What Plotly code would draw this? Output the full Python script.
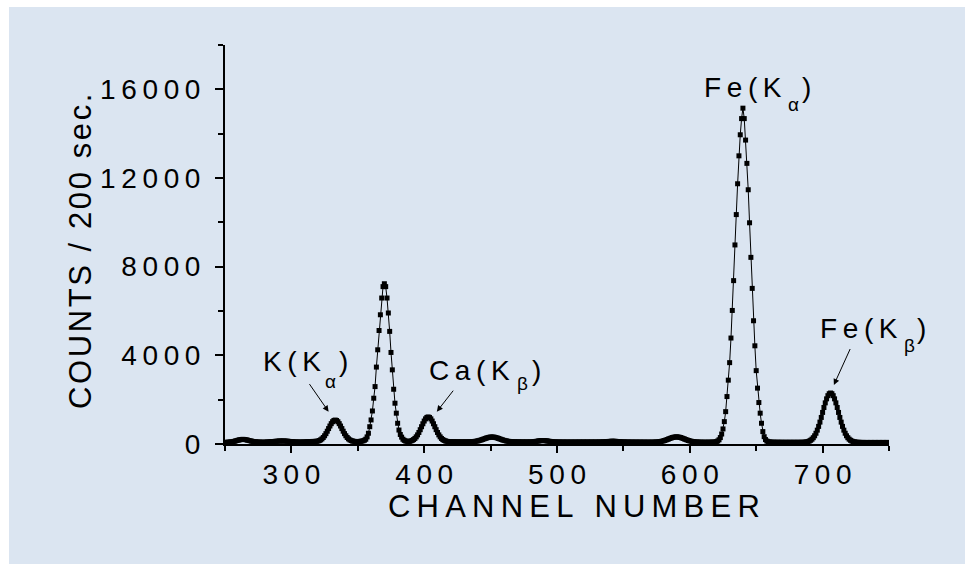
import plotly.graph_objects as go

# ---------------- data ----------------
channel_start = 250
counts = [
    70, 75, 80, 85, 90, 95, 105, 120, 140, 158,            # 250
    174, 189, 200, 208, 207, 200, 189, 174, 159, 143,      # 260
    129, 116, 106, 98, 92, 88, 85, 82, 80, 80,             # 270
    82, 85, 90, 95, 100, 105, 110, 115, 120, 125,          # 280
    130, 133, 135, 136, 135, 133, 130, 126, 120, 114,      # 290
    108, 102, 97, 93, 90, 88, 87, 87, 88, 90,              # 300
    93, 97, 100, 104, 108, 112, 115, 117, 118, 122,        # 310
    133, 155, 187, 232, 294, 372, 468, 577, 695, 811,      # 320
    918, 1005, 1060, 1080, 1060, 1005, 918, 811, 695, 577, # 330
    468, 372, 294, 232, 187, 155, 133, 122, 115, 111,      # 340
    112, 115, 120, 130, 145, 170, 215, 320, 485, 780,      # 350
    1085, 1490, 2065, 2590, 3470, 4250, 5120, 5830, 6585, 7100,  # 360
    7230, 7100, 6585, 5910, 5080, 4130, 3345, 2470, 1840, 1390,  # 370
    935, 630, 430, 310, 215, 165, 135, 120, 115, 122,      # 380
    138, 163, 200, 251, 322, 411, 520, 645, 780, 913,      # 390
    1035, 1134, 1198, 1220, 1198, 1134, 1035, 913, 780, 645,  # 400
    520, 411, 322, 251, 200, 163, 138, 122, 112, 107,      # 410
    104, 102, 100, 99, 98, 97, 96, 95, 95, 95,             # 420
    95, 96, 96, 97, 98, 101, 105, 110, 116, 125,           # 430
    136, 150, 167, 185, 206, 229, 251, 271, 289, 303,      # 440
    312, 315, 312, 303, 289, 271, 251, 229, 206, 185,      # 450
    167, 150, 136, 125, 116, 110, 105, 101, 98, 96,        # 460
    95, 94, 93, 92, 92, 91, 91, 91, 91, 91,                # 470
    92, 95, 100, 107, 116, 126, 136, 145, 152, 155,        # 480
    154, 150, 143, 134, 124, 115, 107, 101, 96, 93,        # 490
    91, 90, 89, 88, 88, 87, 87, 87, 86, 86,                # 500
    86, 86, 86, 86, 86, 87, 87, 87, 88, 88,                # 510
    88, 88, 88, 88, 88, 88, 88, 88, 88, 88,                # 520
    88, 89, 90, 92, 94, 96, 100, 105, 110, 115,            # 530
    120, 123, 125, 123, 120, 115, 110, 104, 99, 96,        # 540
    93, 91, 90, 88, 87, 86, 86, 85, 85, 85,                # 550
    85, 84, 84, 84, 83, 83, 83, 82, 82, 82,                # 560
    82, 82, 83, 84, 87, 91, 96, 103, 112, 125,             # 570
    140, 158, 179, 201, 226, 250, 272, 292, 307, 317,      # 580
    320, 317, 307, 292, 272, 250, 226, 201, 179, 158,      # 590
    140, 125, 112, 103, 96, 91, 87, 84, 82, 81,            # 600
    80, 80, 80, 80, 80, 81, 82, 84, 87, 90,                # 610
    105, 135, 190, 290, 450, 680, 1010, 1460, 2140, 2880,  # 620
    3670, 4780, 6025, 7370, 8980, 10350, 11740, 13000, 13950, 14680,  # 630
    15150, 14680, 13710, 12660, 11470, 9980, 8420, 7020, 5560, 4430,  # 640
    3310, 2520, 1870, 1390, 935, 560, 330, 200, 135, 105,  # 650
    90, 85, 82, 80, 79, 78, 78, 77, 77, 77,                # 660
    76, 76, 76, 76, 76, 76, 76, 76, 76, 76,                # 670
    76, 76, 76, 76, 77, 78, 79, 85, 95, 110,               # 680
    135, 168, 217, 284, 371, 485, 625, 795, 987, 1198,     # 690
    1424, 1647, 1856, 2037, 2180, 2269, 2300, 2269, 2180, 2037,  # 700
    1856, 1647, 1424, 1198, 987, 795, 625, 485, 371, 284,  # 710
    217, 168, 135, 110, 95, 85, 79, 75, 73, 72,            # 720
    71, 70, 70, 70, 70, 70, 70, 70, 70, 70,                # 730
    70, 70, 70, 70, 70, 70, 70, 70, 70, 70,                # 740
    70,                                                    # 750
]
channels = list(range(channel_start, channel_start + len(counts)))

x_range = [250, 750]
y_range = [0, 18000]
x_major = [300, 400, 500, 600, 700]
x_minor = [250, 350, 450, 550, 650, 750]
y_major = [0, 4000, 8000, 12000, 16000]
y_minor = [2000, 6000, 10000, 14000, 18000]

x_title = "CHANNEL NUMBER"
y_title = "COUNTS / 200 sec."

# peak labels, drawn as "X(K" + small subscript letter + ")"
# (main text, subscript, main-right x, main y, sub x, sub y, paren x) in data units
peak_labels = [
    ("K(K", "α", 324.1, 3700, 329.3, 2842, 339.1),
    ("Ca(K", "β", 466.4, 3338, 474.1, 2729, 484.2),
    ("Fe(K", "α", 671.0, 16082, 678.2, 15337, 687.9),
    ("Fe(K", "β", 758.2, 5210, 765.4, 4443, 774.8),
]
# arrows: (tail_x, tail_y, tip_x, tip_y) in data units
arrows = [
    (312.3, 2816, 328.0, 1460),
    (423.3, 2518, 409.5, 1460),
    (721.6, 4398, 708.5, 2667),
]

FONT = "Arial, 'Liberation Sans', sans-serif"
TS = "\u2009"  # thin space: wide letter spacing
HS = "\u200a"  # hair space: narrower letter spacing


def spaced(s, sep=TS):
    return sep.join(s)


def px_(x):  # data x -> paper x (labels may sit outside the x range)
    return (x - x_range[0]) / (x_range[1] - x_range[0])


def py_(y):  # data y -> paper y
    return (y - y_range[0]) / (y_range[1] - y_range[0])


fig = go.Figure()
fig.add_trace(go.Scatter(
    x=channels, y=counts, mode="lines+markers",
    line=dict(color="black", width=1),
    marker=dict(symbol="square", size=5, color="black"),
    showlegend=False, hoverinfo="skip",
))

L, R, T, B = 225, 76, 45, 120
PW, PH = 965 - L - R, 564 - T - B

label_font = dict(family=FONT, size=28, color="black")
sub_font = dict(family=FONT, size=19, color="black")

annotations = []
for main, sub, mx, my, sx, sy, parx in peak_labels:
    annotations.append(dict(
        x=px_(mx), y=py_(my), xref="paper", yref="paper", text=spaced(main),
        showarrow=False, xanchor="right", yanchor="middle", font=label_font,
    ))
    annotations.append(dict(
        x=px_(sx), y=py_(sy), xref="paper", yref="paper", text=sub,
        showarrow=False, xanchor="center", yanchor="middle", font=sub_font,
    ))
    annotations.append(dict(
        x=px_(parx), y=py_(my), xref="paper", yref="paper", text=")",
        showarrow=False, xanchor="center", yanchor="middle", font=label_font,
    ))
for tx, ty, hx, hy in arrows:
    annotations.append(dict(
        x=hx, y=hy, xref="x", yref="y",
        ax=tx, ay=ty, axref="x", ayref="y",
        text="\u00a0", font=dict(size=2), showarrow=True,
        arrowhead=2, arrowsize=1.2, arrowwidth=1, arrowcolor="black",
    ))
# axis titles
annotations.append(dict(
    x=(574 - L) / PW, y=(T + PH - 506) / PH, xref="paper", yref="paper",
    text=spaced(x_title), showarrow=False, xanchor="center", yanchor="middle",
    font=dict(family=FONT, size=31, color="black"),
))
annotations.append(dict(
    x=(80 - L) / PW, y=(T + PH - 252) / PH, xref="paper", yref="paper",
    text=spaced(y_title, HS), showarrow=False, xanchor="center", yanchor="middle",
    textangle=-90, font=dict(family=FONT, size=31, color="black"),
))

fig.update_layout(
    width=965, height=564,
    margin=dict(l=L, r=R, t=T, b=B, pad=0),
    paper_bgcolor="white", plot_bgcolor="rgba(0,0,0,0)",
    font=dict(family=FONT, color="black"),
    shapes=[dict(
        type="rect", xref="paper", yref="paper", layer="below",
        x0=(9 - L) / PW, x1=(965 - L) / PW,
        y0=(T + PH - 564) / PH, y1=(T + PH - 7) / PH,
        fillcolor="#dbe5f1", line=dict(width=0),
    )],
    annotations=annotations,
)

fig.update_xaxes(
    range=x_range, showgrid=False, zeroline=False,
    showline=True, linecolor="black", linewidth=2,
    ticks="outside", ticklen=7, tickwidth=1.5, tickcolor="black",
    tickvals=x_major, ticktext=[spaced(str(v)) for v in x_major],
    tickfont=dict(family=FONT, size=28, color="black"),
    ticklabelstandoff=-3,
    minor=dict(tickvals=x_minor, ticks="outside", ticklen=5, tickwidth=1.5, tickcolor="black"),
)
fig.update_yaxes(
    range=y_range, showgrid=False, zeroline=False,
    showline=True, linecolor="black", linewidth=2,
    ticks="outside", ticklen=8, tickwidth=1.5, tickcolor="black",
    tickvals=y_major, ticktext=[spaced(str(v)) for v in y_major],
    tickfont=dict(family=FONT, size=28, color="black"),
    ticklabelstandoff=9,
    minor=dict(tickvals=y_minor, ticks="outside", ticklen=5, tickwidth=1.5, tickcolor="black"),
)

fig.write_html(
    "out.html",
    config={"displayModeBar": False},
    post_script="document.body.style.margin='0px';",
)
